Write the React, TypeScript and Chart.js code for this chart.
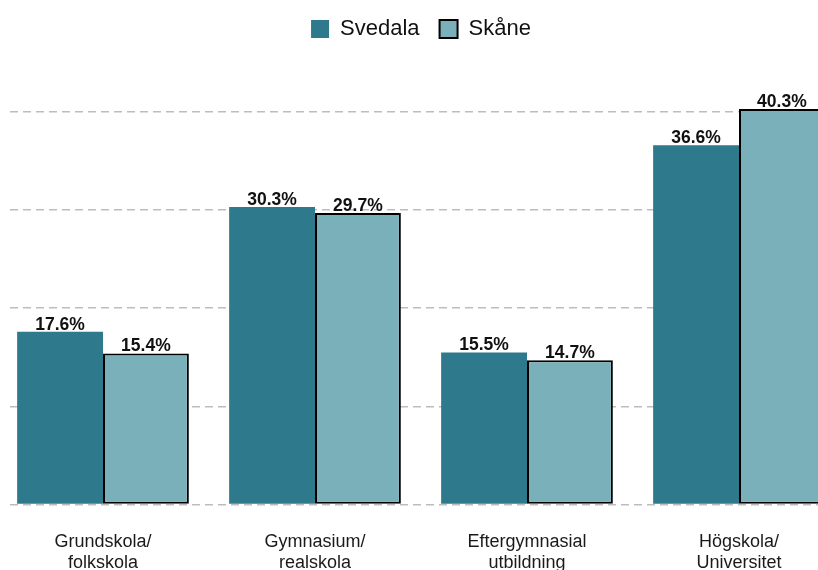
import React, { useEffect, useRef } from "react";
import { Chart, registerables } from "chart.js";

Chart.register(...registerables);

const categories: string[][] = [
  ["Grundskola/", "folkskola"],
  ["Gymnasium/", "realskola"],
  ["Eftergymnasial", "utbildning"],
  ["Högskola/", "Universitet"],
];
const svedalaValues = [17.6, 30.3, 15.5, 36.6];
const skaneValues = [15.4, 29.7, 14.7, 40.3];
const seriesNames = ["Svedala", "Skåne"];
const yTickValues = [0, 10, 20, 30, 40];

const FONT = "'Liberation Sans', Arial, Helvetica, sans-serif";
const DARK = "#2e798c";
const LIGHT = "#7ab0ba";

const valueLabelPlugin = {
  id: "valueLabels",
  beforeDatasetsDraw(chart: any) {
    // keep the dashed grid from starting at the very left edge
    const { ctx, chartArea } = chart;
    ctx.save();
    ctx.fillStyle = "#ffffff";
    ctx.fillRect(0, chartArea.top - 2, 30, chartArea.bottom - chartArea.top + 4);
    ctx.restore();
  },
  afterDatasetsDraw(chart: any) {
    const { ctx } = chart;
    ctx.save();
    ctx.font = `bold 17.5px ${FONT}`;
    ctx.fillStyle = "#111111";
    ctx.textAlign = "center";
    ctx.textBaseline = "alphabetic";
    chart.data.datasets.forEach((ds: any, di: number) => {
      const meta = chart.getDatasetMeta(di);
      meta.data.forEach((bar: any, i: number) => {
        const v = ds.data[i];
        ctx.fillText(v.toFixed(1) + "%", bar.x, bar.y - 2);
      });
    });
    ctx.restore();
  },
};

export default function App() {
  const ref = useRef<HTMLCanvasElement | null>(null);
  useEffect(() => {
    if (!ref.current) return;
    const chart = new Chart(ref.current, {
      type: "bar",
      data: {
        labels: categories,
        datasets: [
          {
            label: seriesNames[0],
            data: svedalaValues,
            backgroundColor: DARK,
            borderWidth: 0,
            borderColor: DARK,
          },
          {
            label: seriesNames[1],
            data: skaneValues,
            backgroundColor: LIGHT,
            borderColor: "#000000",
            borderWidth: 2,
            borderSkipped: false,
          },
        ],
      },
      options: {
        responsive: false,
        animation: false,
        devicePixelRatio: 1,
        layout: { padding: { left: 17, right: 15, top: 0, bottom: 26 } },
        datasets: {
          bar: { categoryPercentage: 0.81, barPercentage: 1 },
        },
        plugins: {
          legend: {
            position: "top",
            labels: {
              boxWidth: 18,
              boxHeight: 18,
              padding: 20,
              color: "#111111",
              font: { family: FONT, size: 22 },
            },
          },
          tooltip: { enabled: false },
        },
        scales: {
          x: {
            grid: { display: false, drawTicks: false },
            border: { display: false },
            ticks: {
              color: "#1a1a1a",
              padding: 27,
              maxRotation: 0,
              font: { family: FONT, size: 18, lineHeight: 1.15 },
            },
          },
          y: {
            min: 0,
            max: 46.3,
            afterBuildTicks: (axis: any) => {
              axis.ticks = yTickValues.map((v) => ({ value: v }));
            },
            grid: {
              color: "#bdbdbd",
              lineWidth: 1.5,
              drawTicks: false,
            },
            border: { display: false, dash: [8, 5] },
            ticks: { display: false },
          },
        },
      },
      plugins: [valueLabelPlugin],
    });
    return () => chart.destroy();
  }, []);
  return (
    <div
      style={{
        position: "fixed",
        left: 0,
        top: 0,
        width: 818,
        height: 570,
        overflow: "hidden",
        background: "#fff",
      }}
    >
      <canvas
        ref={ref}
        width={880}
        height={628}
        style={{ position: "absolute", left: -20, top: -2, width: 880, height: 628 }}
      />
    </div>
  );
}
